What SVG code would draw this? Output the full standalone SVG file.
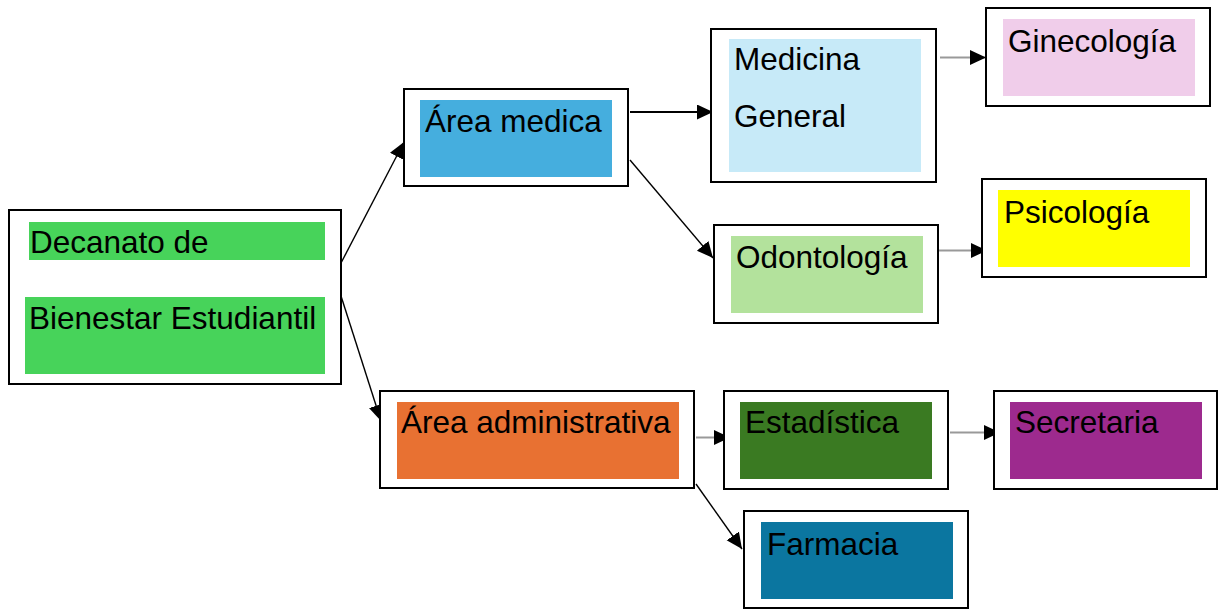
<svg xmlns="http://www.w3.org/2000/svg" width="1219" height="610" viewBox="0 0 1219 610">
<style>
.box{fill:#fff;stroke:#000;stroke-width:2}
.t{font-family:"Liberation Sans",Arial,sans-serif;font-size:31.5px;fill:#000}
.c{fill:none;stroke:#000;stroke-width:1.4}
.ch{fill:none;stroke:#000;stroke-width:2}
.g{fill:none;stroke:#999;stroke-width:2}
</style>
<defs>
<marker id="ah" markerUnits="userSpaceOnUse" markerWidth="17" markerHeight="16" refX="16" refY="7.5" orient="auto">
<path d="M0,0 L16,7.5 L0,15 z" fill="#000"/>
</marker>
</defs>
<rect width="1219" height="610" fill="#fff"/>
<g id="connectors">
<line class="c" x1="341" y1="263" x2="404" y2="142" marker-end="url(#ah)"/>
<line class="c" x1="341" y1="296" x2="381" y2="421" marker-end="url(#ah)"/>
<line class="ch" x1="630" y1="112" x2="713" y2="112" marker-end="url(#ah)"/>
<line class="c" x1="630" y1="160" x2="713" y2="258" marker-end="url(#ah)"/>
<line class="g" x1="940" y1="57.5" x2="986" y2="57.5" marker-end="url(#ah)"/>
<line class="g" x1="938" y1="250.5" x2="987" y2="250.5" marker-end="url(#ah)"/>
<line class="g" x1="696" y1="437.5" x2="730" y2="437.5" marker-end="url(#ah)"/>
<line class="g" x1="950" y1="432.5" x2="1000" y2="432.5" marker-end="url(#ah)"/>
<line class="c" x1="696" y1="484" x2="742" y2="549" marker-end="url(#ah)"/>
</g>
<g id="decanato">
<rect class="box" x="9" y="210" width="332" height="174"/>
<rect x="29" y="222" width="296" height="38" fill="#47D35A"/>
<rect x="25" y="297" width="300" height="77" fill="#47D35A"/>
<text class="t" x="30" y="253">Decanato de</text>
<text class="t" x="29" y="329">Bienestar Estudiantil</text>
</g>
<g id="area-medica">
<rect class="box" x="404" y="89" width="224" height="97"/>
<rect x="420" y="100" width="192" height="77" fill="#45AEDE"/>
<text class="t" x="425" y="132">Área medica</text>
</g>
<g id="medicina-general">
<rect class="box" x="711" y="29" width="225" height="153"/>
<rect x="729" y="39" width="192" height="133" fill="#C7EAF8"/>
<text class="t" x="734" y="70">Medicina</text>
<text class="t" x="734" y="127">General</text>
</g>
<g id="odontologia">
<rect class="box" x="714" y="225" width="224" height="98"/>
<rect x="731" y="236" width="192" height="77" fill="#B3E29C"/>
<text class="t" x="736" y="268">Odontología</text>
</g>
<g id="ginecologia">
<rect class="box" x="986" y="8" width="224" height="98"/>
<rect x="1003" y="19" width="192" height="77" fill="#F0CDEA"/>
<text class="t" x="1008" y="52">Ginecología</text>
</g>
<g id="psicologia">
<rect class="box" x="982" y="179" width="224" height="98"/>
<rect x="998" y="190" width="192" height="77" fill="#FFFF00"/>
<text class="t" x="1004" y="223">Psicología</text>
</g>
<g id="area-administrativa">
<rect class="box" x="380" y="391" width="314" height="97"/>
<rect x="397" y="402" width="282" height="77" fill="#E87132"/>
<text class="t" x="401" y="433">Área administrativa</text>
</g>
<g id="estadistica">
<rect class="box" x="724" y="391" width="224" height="98"/>
<rect x="740" y="402" width="192" height="77" fill="#3A7A22"/>
<text class="t" x="745" y="433">Estadística</text>
</g>
<g id="secretaria">
<rect class="box" x="994" y="391" width="223" height="98"/>
<rect x="1010" y="402" width="192" height="77" fill="#9D2A8E"/>
<text class="t" x="1015" y="433">Secretaria</text>
</g>
<g id="farmacia">
<rect class="box" x="744" y="511" width="224" height="97"/>
<rect x="761" y="522" width="192" height="77" fill="#0B76A0"/>
<text class="t" x="767" y="555">Farmacia</text>
</g>
</svg>
